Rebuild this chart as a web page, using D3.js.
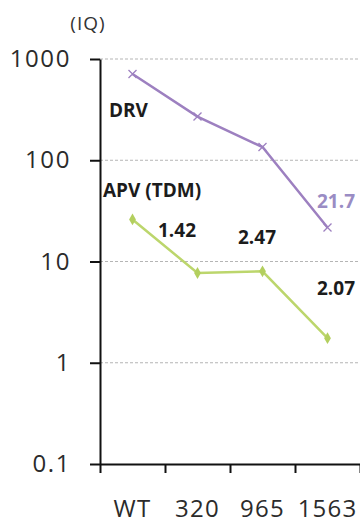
<!DOCTYPE html>
<html>
<head>
<meta charset="utf-8">
<script src="https://cdnjs.cloudflare.com/ajax/libs/d3/7.8.5/d3.min.js"></script>
<style>
    body { margin: 0; background: #fff; }
    svg { display: block; font-family: "Open Sans", "Liberation Sans", sans-serif; }
    .tick text { fill: #2b2b2b; font-family: "Open Sans", "Liberation Sans", sans-serif; }
</style>
</head>
<body>
<div id="chart"></div>
<script>
// Data
const categories = ["WT", "320", "965", "1563"];
const drvValues = [710, 270, 135, 21.7];
const apvValues = [26, 7.7, 8.0, 1.75];
const yTicks = [0.1, 1, 10, 100, 1000];
const yTickLabels = ["0.1", "1", "10", "100", "1000"];
const foldLabels = ["1.42", "2.47", "2.07"];

const width = 360, height = 524;

const svg = d3.select("#chart")
    .append("svg")
    .attr("width", width)
    .attr("height", height);

// Scales
let x = d3.scaleBand()
    .domain(categories)
    .range([100, 360]);

let y = d3.scaleLog()
    .domain([0.1, 1000])
    .range([464, 59]);

let xEdges = d3.scaleLinear()
    .domain([0, categories.length])
    .range([100, 360]);

function cx(d) { return x(d) + x.bandwidth() / 2; }

// Gridlines
svg.append("g")
    .selectAll("line")
    .data(yTicks.filter(function(d) { return d > 0.1; }))
    .enter()
    .append("line")
    .attr("x1", 100)
    .attr("x2", 360)
    .attr("y1", function(d) { return y(d); })
    .attr("y2", function(d) { return y(d); })
    .attr("stroke", "#b5b5b5")
    .attr("stroke-width", 1)
    .attr("stroke-dasharray", "3,2");

// Y axis
let yAxis = svg.append("g")
    .attr("transform", "translate(100,0)")
    .call(d3.axisLeft(y)
        .tickValues(yTicks)
        .tickFormat(function(d, i) { return yTickLabels[i]; })
        .tickSize(10)
        .tickSizeOuter(0)
        .tickPadding(19));
yAxis.attr("font-family", null);
yAxis.selectAll("text")
    .style("font-size", "24px")
    .style("letter-spacing", "1.6px");
yAxis.selectAll("line, path").attr("stroke", "#111").attr("stroke-width", 2);

// X axis: tick marks at category edges
let xAxis = svg.append("g")
    .attr("transform", "translate(0,464)")
    .call(d3.axisBottom(xEdges)
        .tickValues(d3.range(categories.length + 1))
        .tickFormat("")
        .tickSize(9)
        .tickSizeOuter(0));
xAxis.selectAll("line, path").attr("stroke", "#111").attr("stroke-width", 2);

// X labels at category centres
let xLabels = svg.append("g")
    .attr("transform", "translate(0,464)")
    .call(d3.axisBottom(x).tickSize(0).tickPadding(36));
xLabels.attr("font-family", null);
xLabels.select(".domain").remove();
xLabels.selectAll("text")
    .style("font-size", "24px")
    .style("letter-spacing", "1.2px");

// Lines
let line = d3.line()
    .x(function(d, i) { return cx(categories[i]); })
    .y(function(d) { return y(d); });

svg.append("path")
    .datum(drvValues)
    .attr("fill", "none")
    .attr("stroke", "#9d80c0")
    .attr("stroke-width", 2.5)
    .attr("d", line);

svg.append("path")
    .datum(apvValues)
    .attr("fill", "none")
    .attr("stroke", "#bcd66c")
    .attr("stroke-width", 2.5)
    .attr("d", line);

// DRV markers (x)
svg.append("g")
    .selectAll("path")
    .data(drvValues)
    .enter()
    .append("path")
    .attr("transform", function(d, i) {
        return "translate(" + cx(categories[i]) + "," + y(d) + ")";
    })
    .attr("d", "M-4,-4L4,4M-4,4L4,-4")
    .attr("stroke", "#9d80c0")
    .attr("stroke-width", 1.3);

// APV markers (diamond)
svg.append("g")
    .selectAll("path")
    .data(apvValues)
    .enter()
    .append("path")
    .attr("transform", function(d, i) {
        return "translate(" + cx(categories[i]) + "," + y(d) + ")";
    })
    .attr("d", d3.symbol(d3.symbolDiamond, 40))
    .attr("fill", "#b3cf5e");

// Unit label
svg.append("text")
    .attr("x", 88)
    .attr("y", 30)
    .attr("text-anchor", "middle")
    .style("font-size", "19px")
    .style("fill", "#333")
    .style("letter-spacing", "1px")
    .text("(IQ)");

// Series labels and fold-change labels
const annot = [
    { text: "DRV", x: 109, y: 117, color: "#1c1c1c" },
    { text: "APV (TDM)", x: 103, y: 197, color: "#1c1c1c" },
    { text: foldLabels[0], x: 158, y: 237, color: "#1c1c1c" },
    { text: foldLabels[1], x: 238, y: 244, color: "#1c1c1c" },
    { text: foldLabels[2], x: 317, y: 295, color: "#1c1c1c" },
    { text: String(drvValues[3]), x: 317, y: 208, color: "#9a8cc4" }
];

svg.append("g")
    .selectAll("text")
    .data(annot)
    .enter()
    .append("text")
    .attr("x", function(d) { return d.x; })
    .attr("y", function(d) { return d.y; })
    .style("font-size", "19px")
    .style("font-weight", "bold")
    .style("fill", function(d) { return d.color; })
    .text(function(d) { return d.text; });
</script>
</body>
</html>
